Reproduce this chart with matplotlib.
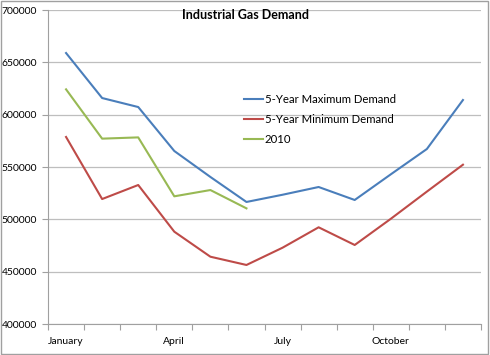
import matplotlib.pyplot as plt
from matplotlib.patches import Rectangle
import numpy as np

plt.rcParams['font.family'] = ['Lato', 'DejaVu Sans']

months = ['January', 'February', 'March', 'April', 'May', 'June',
          'July', 'August', 'September', 'October', 'November', 'December']
max_demand = [658900, 615900, 607300, 565300, 540500, 516600,
              523500, 530900, 518500, 543000, 567200, 614000]
min_demand = [578700, 519400, 532800, 488200, 464300, 456400,
              472900, 492400, 475500, 500500, 526500, 552200]
demand_2010 = [624200, 577100, 578300, 522000, 528000, 510500]

fig = plt.figure(figsize=(4.9, 3.55), dpi=100)
ax = fig.add_axes([0.098, 0.0873, 0.8836, 0.8845])

x = np.arange(len(months))
ax.plot(x, max_demand, color='#4A7EBB', lw=1.5, label='5-Year Maximum Demand')
ax.plot(x, min_demand, color='#BE4B48', lw=1.5, label='5-Year Minimum Demand')
ax.plot(x[:len(demand_2010)], demand_2010, color='#98B954', lw=1.5, label='2010')

ax.set_xlim(-0.5, 11.5)
ax.set_ylim(400000, 700000)
ax.set_yticks(np.arange(400000, 700001, 50000))
ax.yaxis.grid(True, color='#BEBEBE', lw=0.9)
ax.set_axisbelow(True)

# category boundary ticks, labels every third month
ax.set_xticks(np.arange(-0.5, 12, 1))
ax.set_xticklabels([])
ax.set_xticks(x[::3], minor=True)
ax.set_xticklabels([months[i] for i in x[::3]], minor=True)
ax.tick_params(axis='x', which='major', length=4, color='#A0A0A0', direction='out')
ax.tick_params(axis='x', which='minor', length=0, pad=9, labelsize=7.5)
ax.tick_params(axis='y', length=4, color='#A0A0A0', labelsize=7.5, pad=4)

for side in ['top', 'right']:
    ax.spines[side].set_visible(False)
for side in ['left', 'bottom']:
    ax.spines[side].set_color('#A0A0A0')

ax.text(0.455, 1.003, 'Industrial Gas Demand', transform=ax.transAxes,
        ha='center', va='top', fontsize=9, fontweight='bold')

ax.legend(loc='upper left', bbox_to_anchor=(0.43, 0.765), frameon=False,
          fontsize=8.2, handlelength=1.6, handletextpad=0.2, labelspacing=0.8)

fig.patches.append(Rectangle((0.002, 0.003), 0.994, 0.993, transform=fig.transFigure,
                             fill=False, edgecolor='#A0A0A0', lw=1))

fig.savefig('out.png', dpi=100)
